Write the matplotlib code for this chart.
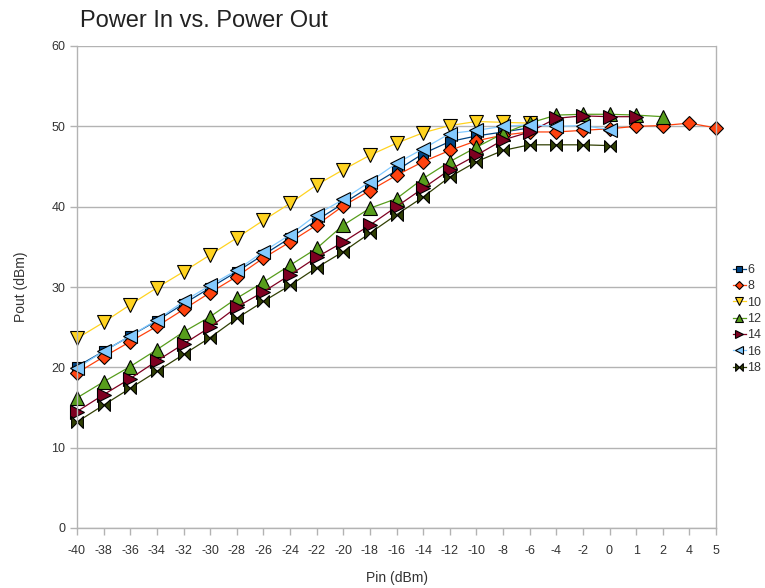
import matplotlib
matplotlib.use("Agg")
import matplotlib.pyplot as plt
from matplotlib.path import Path

plt.rcParams['font.family'] = ['Liberation Sans', 'DejaVu Sans']

categories = ['-40', '-38', '-36', '-34', '-32', '-30', '-28', '-26', '-24', '-22',
              '-20', '-18', '-16', '-14', '-12', '-10', '-8', '-6', '-4', '-2',
              '0', '1', '2', '4', '5']

s6 = [20.1, 22.0, 23.9, 25.8, 27.9, 29.9, 31.9, 34.0, 36.1, 38.3, 40.4, 42.5,
      44.5, 46.6, 48.1, 48.8, 49.3, 49.8]
s8 = [19.3, 21.3, 23.2, 25.1, 27.2, 29.3, 31.3, 33.6, 35.6, 37.7, 40.1, 42.0,
      43.9, 45.6, 47.0, 48.2, 48.9, 49.3, 49.3, 49.5, 49.7, 50.0, 50.1, 50.4, 49.8]
s10 = [23.6, 25.6, 27.8, 29.9, 31.9, 34.0, 36.1, 38.3, 40.4, 42.7, 44.6, 46.4,
       47.9, 49.2, 50.1, 50.6, 50.5, 50.4]
s12 = [16.2, 18.2, 20.1, 22.2, 24.4, 26.3, 28.6, 30.6, 32.7, 34.8, 37.7, 39.8,
       41.0, 43.5, 45.6, 47.4, 49.1, 50.4, 51.4, 51.5, 51.5, 51.4, 51.2]
s14 = [14.5, 16.6, 18.6, 20.8, 22.9, 25.0, 27.5, 29.4, 31.5, 33.7, 35.6, 37.7,
       40.0, 42.3, 44.6, 46.4, 48.3, 49.3, 51.0, 51.3, 51.2, 51.2]
s16 = [19.9, 22.0, 23.9, 25.9, 28.2, 30.2, 32.1, 34.4, 36.5, 39.0, 40.9, 43.1,
       45.4, 47.2, 49.1, 49.5, 50.0, 50.2, 50.0, 50.1, 49.6]
s18 = [13.2, 15.3, 17.4, 19.5, 21.6, 23.7, 26.1, 28.2, 30.2, 32.4, 34.4, 36.7,
       39.0, 41.2, 43.7, 45.6, 47.0, 47.7, 47.7, 47.7, 47.6]

series_names = ['6', '8', '10', '12', '14', '16', '18']
series_values = [s6, s8, s10, s12, s14, s16, s18]

bowtie = Path([(-1, -1), (-1, 1), (1, -1), (1, 1), (-1, -1)],
              [Path.MOVETO, Path.LINETO, Path.LINETO, Path.LINETO, Path.CLOSEPOLY])

colors = ['#004586', '#FF420E', '#FFD320', '#579D1C', '#7E0021', '#83CAFF', '#314004']
markers = ['s', 'D', 'v', '^', '>', '<', bowtie]
msizes = [7.5, 7, 9.5, 9.5, 9.5, 9.5, 8.5]

fig = plt.figure(figsize=(7.65, 5.88), dpi=100)
ax = fig.add_axes([77 / 765, 1 - 528 / 588, (716 - 77) / 765, (528 - 46) / 588])

for name, vals, c, m, ms in zip(series_names, series_values, colors, markers, msizes):
    xs = list(range(len(vals)))
    ax.plot(xs, vals, color=c, lw=0.9, marker=m, markersize=ms,
            markerfacecolor=c, markeredgecolor='black', markeredgewidth=0.8,
            label=name, clip_on=False)

ax.set_xlim(0, len(categories) - 1)
ax.set_ylim(0, 60)
ax.set_xticks(range(len(categories)))
ax.set_xticklabels(categories)
ax.set_yticks(range(0, 61, 10))
ax.yaxis.grid(True, color='#b3b3b3', lw=1)
ax.set_axisbelow(True)
ax.spines['top'].set_visible(False)
for s in ['left', 'right', 'bottom']:
    ax.spines[s].set_color('#b3b3b3')
    ax.spines[s].set_linewidth(1)
ax.tick_params(axis='both', colors='#b3b3b3', length=5, width=1,
               labelcolor='#333333', labelsize=9)
ax.tick_params(axis='x', pad=7)

ax.set_xlabel('Pin (dBm)', fontsize=10, color='#333333', labelpad=10)
ax.set_ylabel('Pout (dBm)', fontsize=10, color='#333333', labelpad=17)

fig.text(80 / 765, 1 - 21 / 588, 'Power In vs. Power Out', fontsize=17,
         color='#222222', ha='left', va='center')

leg = fig.legend(loc='center left', bbox_to_anchor=(733 / 765, 1 - 319 / 588),
                 frameon=False, fontsize=9, handlelength=1.0, handletextpad=0.15,
                 labelspacing=0.35, markerscale=0.65, borderaxespad=0,
                 borderpad=0)
for t in leg.get_texts():
    t.set_color('#333333')

fig.savefig('out.png', dpi=100)
